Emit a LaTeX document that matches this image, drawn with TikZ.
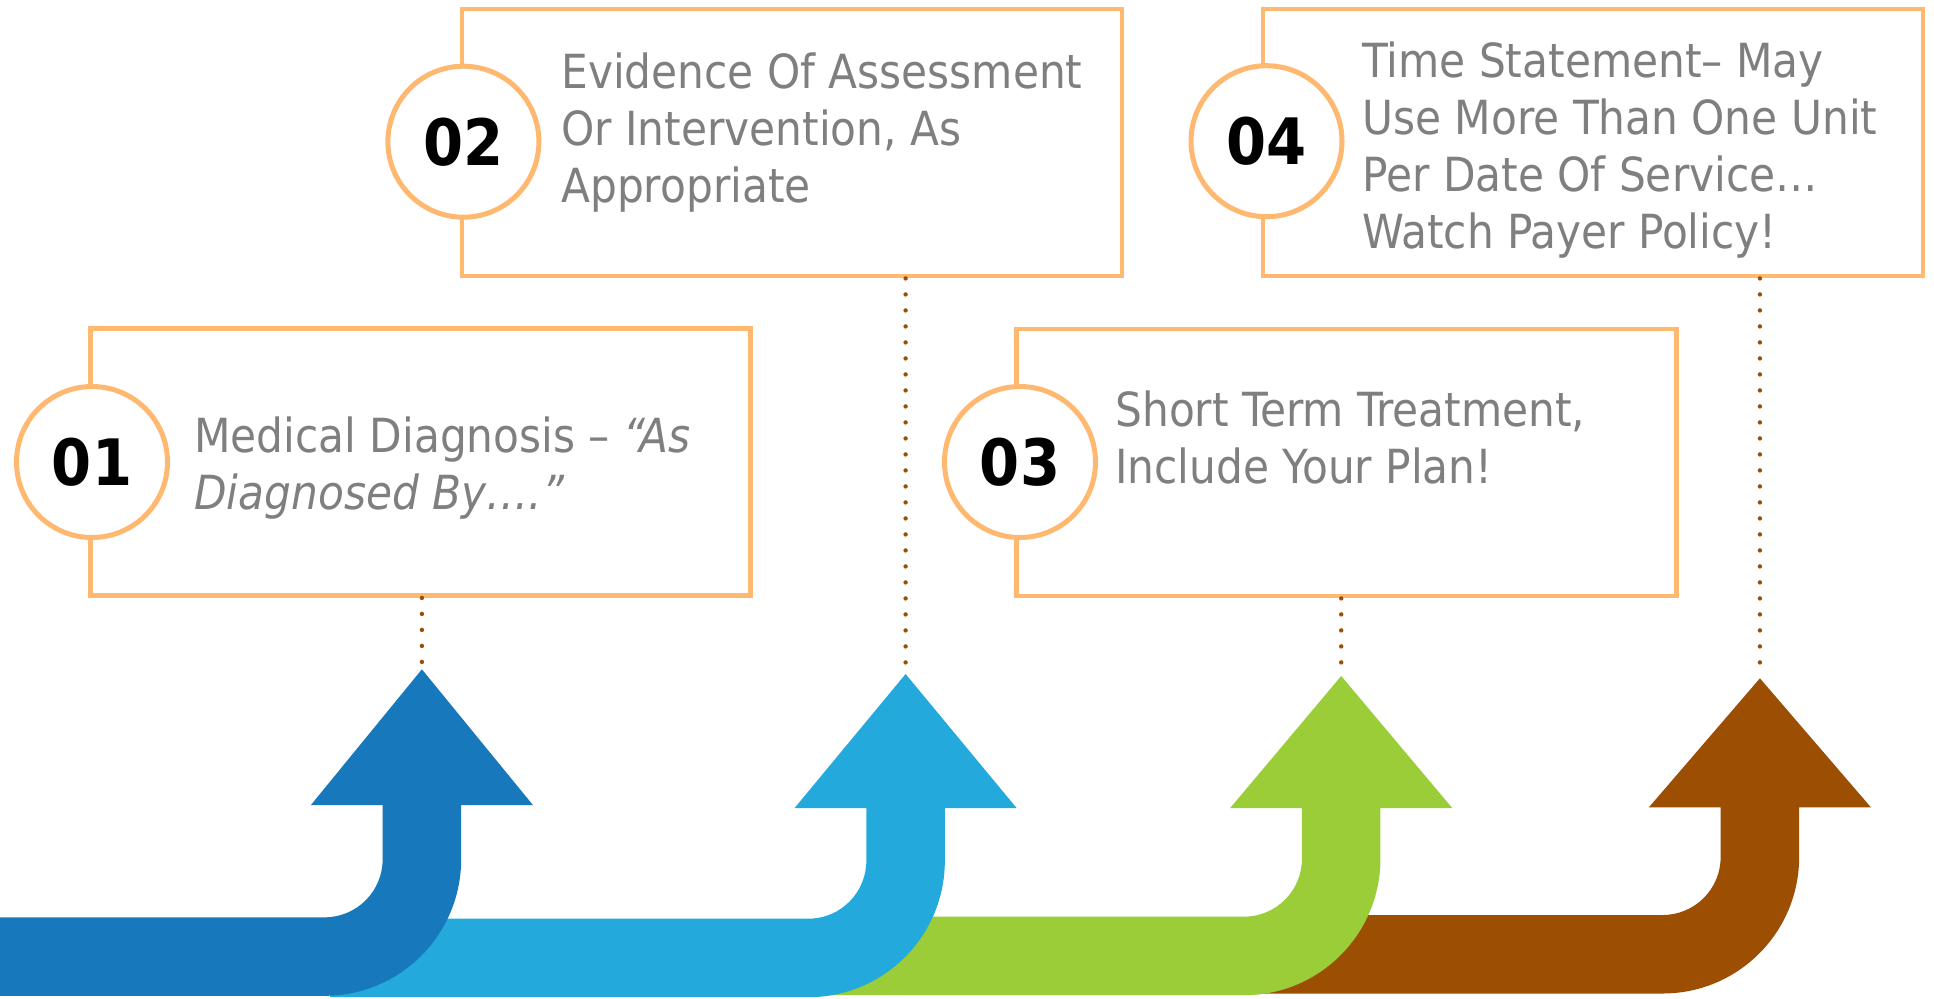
\documentclass[tikz,border=0pt]{standalone}
\usepackage{fontspec}
\setmainfont{DejaVu Sans Condensed}

\definecolor{riserA}{RGB}{24,120,188}
\definecolor{riserB}{RGB}{35,169,219}
\definecolor{riserC}{RGB}{154,205,55}
\definecolor{riserD}{RGB}{156,79,3}
\definecolor{panelline}{RGB}{255,184,112}
\definecolor{bodytext}{RGB}{127,127,127}

% #1 colour, #2 shaft centre x, #3 tip y, #4 head base y, #5 band top y, #6 band left x
\newcommand{\riser}[6]{%
  \fill[#1] (#6,#5) -- ({#2-97.25},#5)
    arc[start angle=90,end angle=0,radius=58]
    -- ({#2-39.25},#4) -- ({#2-111},#4) -- (#2,#3) -- ({#2+111},#4)
    -- ({#2+39.25},#4) -- ({#2+39.25},{#5-58})
    arc[start angle=0,end angle=90,radius=136.5]
    -- (#6,{#5+78.5}) -- cycle;}

\tikzset{
  panel/.style={draw=panelline, line width=2.4pt, fill=white,
    minimum width=330pt, minimum height=133.5pt, inner sep=0pt},
  badge/.style={circle, draw=panelline, line width=2.5pt, fill=white,
    minimum size=75.5pt, inner sep=0pt,
    font=\fontsize{32}{36}\selectfont\bfseries, text=black},
  % anchored on the baseline of the last line
  caption/.style={anchor=base west, align=left, inner sep=0pt,
    text=bodytext, font=\fontsize{23.5}{28.5}\selectfont},
  leader/.style={draw=riserD, line width=2.2pt, line cap=round,
    dash pattern=on 0pt off 8pt}
}

\begin{document}
\begin{tikzpicture}[x=0.5pt,y=-0.5pt]
\useasboundingbox (0,0) rectangle (1934,998);
\fill[white] (0,0) rectangle (1934,998);

% rising arrows, back to front; each band starts under the bend of the one before
\riser{riserD}{1759.9}{678.3}{807.3}{915}{1260}
\riser{riserC}{1341.2}{676}{808}{916.7}{830}
\riser{riserB}{905.6}{674}{808}{918.7}{330}
\riser{riserA}{421.9}{669.3}{805}{917.3}{-2}

\coordinate (tip1) at (421.9,669.3);
\coordinate (tip2) at (905.6,674);
\coordinate (tip3) at (1341.2,676);
\coordinate (tip4) at (1759.9,678.3);

% step panels
\node[panel] (box1) at (420.5,462) {};
\node[panel] (box2) at (792,142.5) {};
\node[panel] (box3) at (1346.5,462.5) {};
\node[panel] (box4) at (1593,142.5) {};

\node[badge] (num1) at (92,462) {01};
\node[badge] (num2) at (463.4,141.7) {02};
\node[badge] (num3) at (1020,462) {03};
\node[badge] (num4) at (1266.5,141.2) {04};

\node[caption] (txt1) at (194,509.3) {Medical Diagnosis – \textit{“As}\\\textit{Diagnosed By….”}};
\node[caption] (txt2) at (561,202.7) {Evidence Of Assessment\\Or Intervention, As\\Appropriate};
\node[caption] (txt3) at (1115,483.3) {Short Term Treatment,\\Include Your Plan!};
\node[caption] (txt4) at (1362,248.3) {Time Statement– May\\Use More Than One Unit\\Per Date Of Service…\\Watch Payer Policy!};

% dotted leaders from panels down to arrow tips
\draw[leader] (box1.south -| tip1) -- (tip1);
\draw[leader] (box2.south -| tip2) -- (tip2);
\draw[leader] (box3.south -| tip3) -- (tip3);
\draw[leader] (box4.south -| tip4) -- (tip4);
\end{tikzpicture}
\end{document}
